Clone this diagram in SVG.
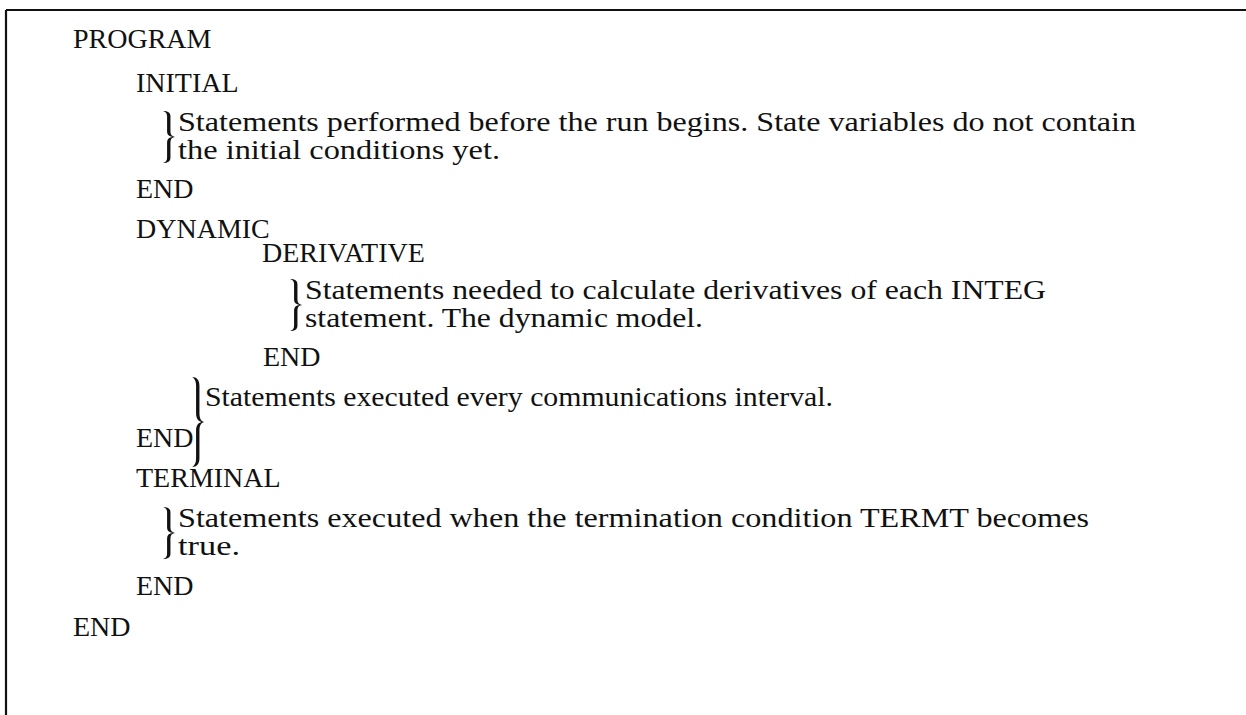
<svg xmlns="http://www.w3.org/2000/svg" width="1246" height="715" viewBox="0 0 1246 715">
  <style>
    .t { font-family: "Liberation Serif", "Times New Roman", serif; font-size: 28px; fill: #111; }
    .frame { stroke: #111; stroke-width: 2.2; fill: none; }
    .brace { fill: #111; }
  </style>
  <defs>
    <!-- right curly brace in a 10 x 100 box, tip at (10,50) -->
    <path id="brace" d="M0,0 C4,0 6.2,3 6.2,10 L6.2,40 C6.2,46 7.5,49 10,50 C7.5,51 6.2,54 6.2,60 L6.2,90 C6.2,97 4,100 0,100 C2.2,98.5 3.4,95.5 3.4,90 L3.4,60 C3.4,54 5,51 8,50 C5,49 3.4,46 3.4,40 L3.4,10 C3.4,4.5 2.2,1.5 0,0 Z"/>
  </defs>
  <rect width="1246" height="715" fill="#fff"/>

  <!-- frame: top rule and left rule -->
  <g id="frame">
    <path class="frame" d="M6,10 H1246 M6,10 V715"/>
  </g>

  <g id="program">
    <text class="t" x="73" y="48">PROGRAM</text>
  </g>

  <g id="initial">
    <text class="t" x="136" y="92">INITIAL</text>
    <use href="#brace" class="brace" transform="translate(163,111) scale(1.2,0.52)"/>
    <text class="t" x="178" y="131" textLength="958" lengthAdjust="spacingAndGlyphs">Statements performed before the run begins. State variables do not contain</text>
    <text class="t" x="178" y="159" textLength="322" lengthAdjust="spacingAndGlyphs">the initial conditions yet.</text>
    <text class="t" x="136" y="198">END</text>
  </g>

  <g id="dynamic">
    <text class="t" x="136" y="238">DYNAMIC</text>
    <g id="derivative">
      <text class="t" x="262" y="262">DERIVATIVE</text>
      <use href="#brace" class="brace" transform="translate(290,279) scale(1.2,0.52)"/>
      <text class="t" x="305" y="299" textLength="741" lengthAdjust="spacingAndGlyphs">Statements needed to calculate derivatives of each INTEG</text>
      <text class="t" x="305" y="327" textLength="398" lengthAdjust="spacingAndGlyphs">statement. The dynamic model.</text>
      <text class="t" x="263" y="366">END</text>
    </g>
    <use href="#brace" class="brace" transform="translate(192,377) scale(1.2,0.9)"/>
    <text class="t" x="205" y="406" textLength="628" lengthAdjust="spacingAndGlyphs">Statements executed every communications interval.</text>
    <text class="t" x="136" y="447">END</text>
  </g>

  <g id="terminal">
    <text class="t" x="136" y="487">TERMINAL</text>
    <use href="#brace" class="brace" transform="translate(163,507) scale(1.2,0.52)"/>
    <text class="t" x="178" y="527" textLength="911" lengthAdjust="spacingAndGlyphs">Statements executed when the termination condition TERMT becomes</text>
    <text class="t" x="178" y="555" textLength="62" lengthAdjust="spacingAndGlyphs">true.</text>
    <text class="t" x="136" y="595">END</text>
  </g>

  <g id="program-end">
    <text class="t" x="73" y="636">END</text>
  </g>
</svg>
